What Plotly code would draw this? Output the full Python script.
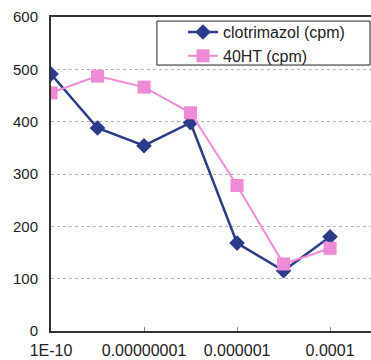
import plotly.graph_objects as go

# Concentration (M) and counts per minute for each compound
concentration = [1e-10, 1e-9, 1e-8, 1e-7, 1e-6, 1e-5, 1e-4]
clotrimazol_cpm = [491, 388, 354, 398, 168, 115, 180]
oht_cpm = [455, 487, 466, 417, 278, 128, 158]

tick_vals = [1e-10, 1e-8, 1e-6, 1e-4]
tick_text = ["1E-10", "0.00000001", "0.000001", "0.0001"]

BLUE = "#2b3a8c"
PINK = "#ee8ad6"

fig = go.Figure()
fig.add_trace(go.Scatter(
    x=concentration, y=clotrimazol_cpm, name="clotrimazol (cpm)",
    mode="lines+markers",
    line=dict(color=BLUE, width=2.5),
    marker=dict(symbol="diamond", size=12, color=BLUE),
))
fig.add_trace(go.Scatter(
    x=concentration, y=oht_cpm, name="40HT (cpm)",
    mode="lines+markers",
    line=dict(color=PINK, width=2),
    marker=dict(symbol="square", size=13, color=PINK),
))

# Framed white box behind the legend entries
fig.add_shape(
    type="rect", xref="paper", yref="paper",
    x0=0.331, x1=0.997, y0=0.847, y1=0.987,
    line=dict(color="#222", width=1), fillcolor="white", layer="above",
)

fig.update_layout(
    width=371, height=360,
    margin=dict(l=51, r=0, t=17, b=29),
    paper_bgcolor="white", plot_bgcolor="white",
    font=dict(family="Liberation Sans, Arial, sans-serif", size=15, color="#222"),
    showlegend=True,
    legend=dict(
        x=0.4125, y=1.006, xanchor="left", yanchor="top",
        bgcolor="rgba(0,0,0,0)", borderwidth=0,
        font=dict(size=16), tracegroupgap=0,
    ),
    xaxis=dict(
        type="log", range=[-10, -3.12],
        tickvals=tick_vals, ticktext=tick_text,
        tickfont=dict(size=16),
        showgrid=False, zeroline=False,
        showline=True, linecolor="#333", linewidth=2, mirror=True,
        ticks="inside", ticklen=4, tickcolor="#888",
        ticklabelstandoff=4,
    ),
    yaxis=dict(
        range=[0, 600], dtick=100,
        showgrid=True, gridcolor="#b0b0b0", griddash="dot", gridwidth=1,
        zeroline=False,
        showline=True, linecolor="#333", linewidth=2,
        ticks="", ticklabelstandoff=8,
    ),
)

fig.write_html("out.html")
